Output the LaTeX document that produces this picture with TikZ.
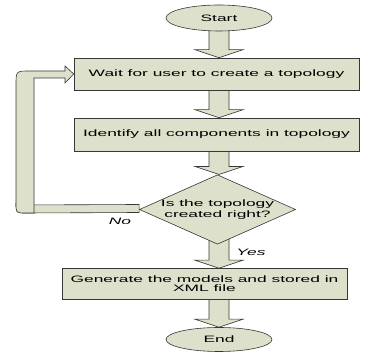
\documentclass[tikz,border=0pt]{standalone}
\usepackage{fontspec}
\newfontfamily\chartfont[FakeStretch=1.87]{Liberation Sans}
\usetikzlibrary{shapes.geometric,calc}
\pgfdeclarelayer{background}
\pgfsetlayers{background,main}
\definecolor{chartfill}{RGB}{221,224,203}
\definecolor{chartline}{RGB}{55,55,55}
\tikzset{
  chartshape/.style={draw=chartline,fill=chartfill,line width=0.6pt},
  terminal/.style={chartshape,ellipse,minimum width=106pt,minimum height=26pt,inner sep=0pt,
    font=\chartfont\fontsize{9.3}{11}\selectfont},
  process/.style={chartshape,rectangle,minimum width=285pt,minimum height=32pt,inner sep=0pt,
    align=center,font=\chartfont\fontsize{9.3}{8.7}\selectfont},
  decision/.style={chartshape,diamond,aspect=2.25,minimum width=151pt,minimum height=67pt,inner sep=0pt,
    align=center,font=\chartfont\fontsize{9.3}{10.5}\selectfont},
  answer/.style={font=\chartfont\itshape\fontsize{9.3}{11}\selectfont},
}
% block arrow going down from node #1 to node #2
\newcommand{\flowarrow}[2]{%
  \begin{pgfonlayer}{background}
  \draw[chartshape] ($(axis |- #1)+(-10,0)$) -- ($(axis |- #2.north)+(-10,-8)$)
    -- ($(axis |- #2.north)+(-24,-8)$) -- (axis |- #2.north)
    -- ($(axis |- #2.north)+(24,-8)$) -- ($(axis |- #2.north)+(10,-8)$)
    -- ($(axis |- #1)+(10,0)$) -- cycle;
  \end{pgfonlayer}}
\begin{document}
\begin{tikzpicture}[x=1pt,y=-1pt]
  \useasboundingbox (0,0) rectangle (365,352);
  \coordinate (axis) at (219,0);
  \node[terminal] (start) at (219,18) {Start};
  \node[process] (wait) at (216.5,74) {Wait for user to create a topology};
  \node[process,minimum height=33pt] (ident) at (216.5,134.5) {Identify all components in topology};
  \node[decision] (chk) at (217.5,209.5) {Is the topology\\created right?};
  \node[process,minimum height=31pt] (gen) at (204.5,284) {Generate the models and stored in\\XML file};
  \node[terminal,minimum height=24pt] (stop) at (219,339.5) {End};
  % main flow
  \flowarrow{start}{wait}
  \flowarrow{wait}{ident}
  \flowarrow{ident}{chk}
  \flowarrow{chk}{gen}
  \flowarrow{gen}{stop}
  % back to the start when the check fails
  \begin{pgfonlayer}{background}
  \draw[chartshape] (16,205) -- ($(chk.west)+(0,-5)$) -- ($(chk.west)+(0,3)$)
    -- (26,213) .. controls (16,213) .. (16,203) -- cycle;
  \draw[chartshape] (34,213) -- (34,78) -- (65,78) -- (65,83) -- (wait.west)
    -- (65,66) -- (65,71) -- (30,71) .. controls (16,71) .. (16,85)
    -- (16,203) .. controls (16,213) .. (26,213) -- cycle;
  \end{pgfonlayer}
  \node[answer] (no) at (120,221) {No};
  \node[answer] (yes) at (251,252) {Yes};
\end{tikzpicture}
\end{document}
